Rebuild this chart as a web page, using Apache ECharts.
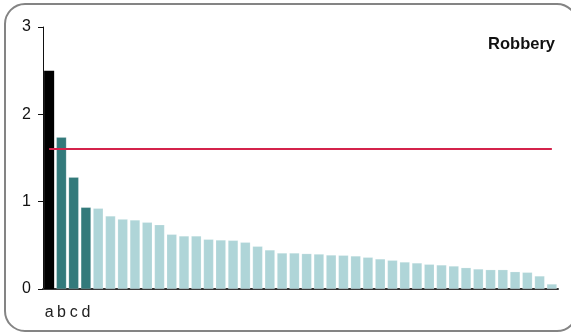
<!DOCTYPE html>
<html><head><meta charset="utf-8">
<script src="https://cdn.jsdelivr.net/npm/echarts@6/dist/echarts.min.js"></script>
<style>html,body{margin:0;padding:0;background:#fff}#c{width:571px;height:334px}</style>
</head><body><div id="c"></div>
<script>
const categories = ['a','b','c','d','','','','','','','','','','','','','','','','','','','','','','','','','','','','','','','','','','','','','',''];
const values = [2.50,1.737,1.28,0.935,0.924,0.836,0.80,0.79,0.764,0.736,0.626,0.607,0.607,0.569,0.561,0.557,0.535,0.489,0.447,0.412,0.412,0.405,0.40,0.389,0.386,0.378,0.363,0.344,0.329,0.309,0.298,0.283,0.275,0.263,0.244,0.229,0.221,0.221,0.198,0.191,0.149,0.057];
const groups = ['top','mid','mid','mid','rest','rest','rest','rest','rest','rest','rest','rest','rest','rest','rest','rest','rest','rest','rest','rest','rest','rest','rest','rest','rest','rest','rest','rest','rest','rest','rest','rest','rest','rest','rest','rest','rest','rest','rest','rest','rest','rest'];
const referenceValue = 1.61;
const yTicks = [0,1,2,3];
const title = 'Robbery';

const colors = {top:'#000000', mid:'#337a7b', rest:'#afd5d8'};
const chart = echarts.init(document.getElementById('c'));
chart.setOption({
  animation:false,
  backgroundColor:'#fff',
  graphic:[{type:'rect',shape:{x:5,y:4,width:572,height:327,r:20},style:{fill:'none',stroke:'#848484',lineWidth:2},z:-1}],
  title:{text:title,right:16,top:36,padding:0,textStyle:{fontFamily:'Liberation Sans',fontSize:16.5,fontWeight:'bold',color:'#111'}},
  grid:{left:43,right:13,top:27,bottom:45},
  xAxis:{type:'category',data:categories,boundaryGap:true,
    axisLine:{show:true,lineStyle:{color:'#333',width:2}},
    axisTick:{show:false},
    axisLabel:{interval:0,margin:16,fontFamily:'Liberation Sans',fontSize:16,color:'#222'}},
  yAxis:{type:'value',min:yTicks[0],max:yTicks[yTicks.length-1],interval:1,
    splitLine:{show:false},
    axisLine:{show:true,lineStyle:{color:'#111',width:1}},
    axisTick:{show:true,length:5,lineStyle:{color:'#111'}},
    axisLabel:{margin:12,fontFamily:'Liberation Sans',fontSize:16,color:'#111'}},
  series:[{type:'bar',barCategoryGap:'18%',
    data:values.map((v,i)=>({value:v,itemStyle:{color:colors[groups[i]],borderColor:'rgba(255,255,255,0.35)',borderWidth:groups[i]==='top'?0:0.5}})),
    markLine:{silent:true,symbol:'none',label:{show:false},
      lineStyle:{color:'#d4234b',width:2,type:'solid'},
      data:[[{xAxis:0,yAxis:referenceValue},{xAxis:categories.length-1,yAxis:referenceValue}]]}
  }]
});
</script></body></html>
